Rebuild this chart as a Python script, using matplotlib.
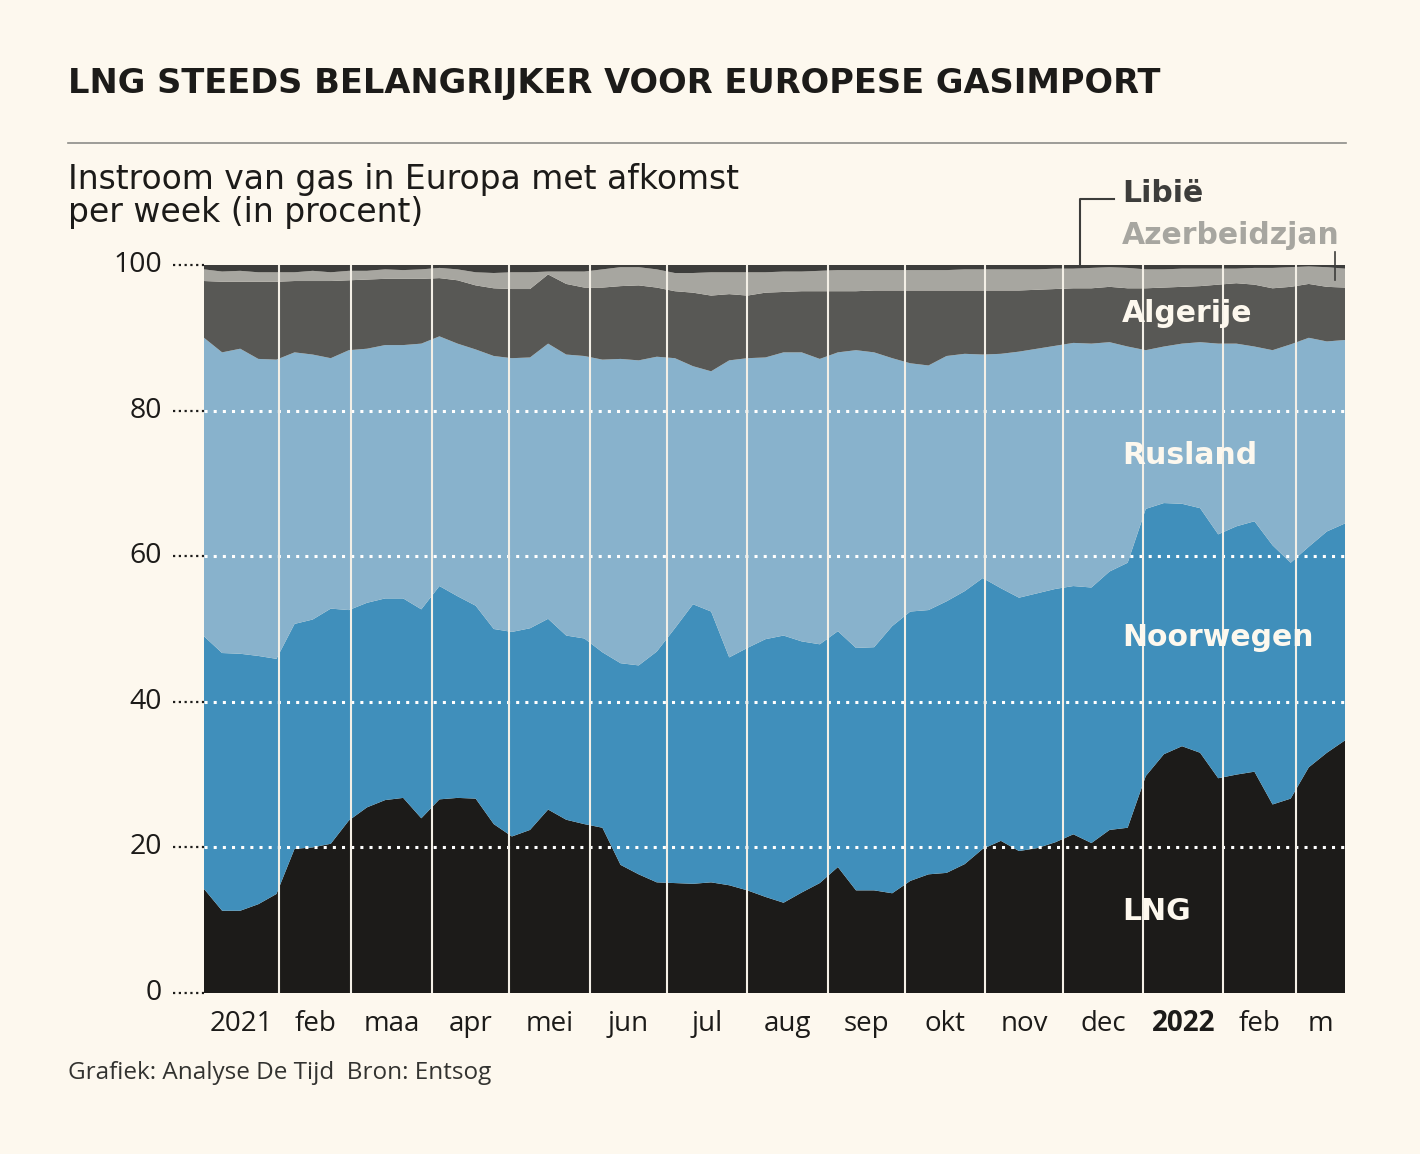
import matplotlib
matplotlib.use("Agg")
import matplotlib.pyplot as plt
import matplotlib.dates as mdates
import pandas as pd

# weekly shares of gas inflow into Europe (percent)
weeks = pd.date_range("2021-01-03", periods=64, freq="7D")

lng = [14.3, 11.3, 11.3, 12.2, 13.6, 19.8, 20.0, 20.5, 23.7, 25.5, 26.5, 26.8, 24.0, 26.6, 26.8, 26.7,
       23.2, 21.5, 22.4, 25.2, 23.8, 23.2, 22.7, 17.6, 16.3, 15.2, 15.1, 15.0, 15.2, 14.8, 14.1, 13.2,
       12.4, 13.8, 15.1, 17.3, 14.1, 14.1, 13.7, 15.4, 16.3, 16.5, 17.7, 19.8, 20.9, 19.5, 19.9, 20.7,
       21.8, 20.6, 22.4, 22.7, 29.8, 32.8, 33.9, 33.0, 29.5, 30.0, 30.4, 25.9, 26.7, 31.0, 33.0, 34.7]
noorwegen = [34.7, 35.4, 35.3, 34.1, 32.3, 30.9, 31.3, 32.3, 28.9, 28.1, 27.7, 27.4, 28.7, 29.3, 27.7, 26.5,
             26.8, 28.1, 27.7, 26.2, 25.3, 25.5, 24.1, 27.7, 28.7, 31.7, 35.0, 38.4, 37.2, 31.3, 33.3, 35.4,
             36.7, 34.5, 32.8, 32.4, 33.3, 33.4, 36.7, 37.0, 36.3, 37.3, 37.5, 37.2, 34.7, 34.8, 35.0, 34.8,
             34.1, 35.1, 35.5, 36.4, 36.7, 34.5, 33.3, 33.6, 33.5, 34.1, 34.4, 35.6, 32.4, 30.3, 30.4, 29.8]
rusland = [41.0, 41.3, 41.9, 40.8, 41.1, 37.3, 36.4, 34.4, 35.7, 34.9, 34.8, 34.8, 36.5, 34.3, 34.7, 35.2,
           37.5, 37.6, 37.2, 37.8, 38.6, 38.8, 40.2, 41.8, 41.9, 40.5, 37.1, 32.7, 33.0, 40.8, 39.8, 38.7,
           38.9, 39.7, 39.2, 38.3, 40.9, 40.5, 36.8, 34.1, 33.6, 33.7, 32.6, 30.7, 32.2, 33.8, 33.6, 33.4,
           33.4, 33.5, 31.5, 29.7, 21.8, 21.5, 22.0, 22.8, 26.2, 25.1, 24.0, 26.8, 30.0, 28.7, 26.1, 25.2]
algerije = [7.8, 9.7, 9.2, 10.6, 10.7, 9.8, 10.1, 10.6, 9.6, 9.5, 9.1, 9.1, 8.9, 8.0, 8.7, 8.8,
            9.3, 9.5, 9.4, 9.5, 9.7, 9.4, 9.9, 10.0, 10.3, 9.5, 9.2, 10.1, 10.4, 9.1, 8.6, 8.9,
            8.3, 8.4, 9.3, 8.4, 8.1, 8.5, 9.3, 10.0, 10.3, 9.0, 8.7, 8.8, 8.7, 8.4, 8.1, 7.8,
            7.5, 7.6, 7.6, 8.0, 8.5, 8.1, 7.8, 7.7, 8.1, 8.3, 8.5, 8.5, 7.9, 7.4, 7.5, 7.2]
azerbeidzjan = [1.6, 1.4, 1.5, 1.3, 1.3, 1.2, 1.4, 1.2, 1.3, 1.2, 1.3, 1.2, 1.3, 1.4, 1.5, 1.8,
                2.1, 2.3, 2.3, 0.4, 1.7, 2.2, 2.5, 2.6, 2.5, 2.5, 2.5, 2.7, 3.2, 3.0, 3.2, 2.8,
                2.8, 2.7, 2.8, 2.9, 2.9, 2.8, 2.8, 2.8, 2.8, 2.8, 2.9, 2.9, 2.9, 2.9, 2.8, 2.8,
                2.7, 2.8, 2.7, 2.8, 2.6, 2.5, 2.5, 2.4, 2.2, 2.0, 2.3, 2.8, 2.7, 2.4, 2.7, 2.6]
libie = [0.6, 0.9, 0.8, 1.0, 1.0, 1.0, 0.8, 1.0, 0.8, 0.8, 0.6, 0.7, 0.6, 0.4, 0.6, 1.0,
         1.1, 1.0, 1.0, 0.9, 0.9, 0.9, 0.6, 0.3, 0.3, 0.6, 1.1, 1.1, 1.0, 1.0, 1.0, 1.0,
         0.9, 0.9, 0.8, 0.7, 0.7, 0.7, 0.7, 0.7, 0.7, 0.7, 0.6, 0.6, 0.6, 0.6, 0.6, 0.5,
         0.5, 0.4, 0.3, 0.4, 0.6, 0.6, 0.5, 0.5, 0.5, 0.5, 0.4, 0.4, 0.3, 0.2, 0.3, 0.5]

month_starts = pd.date_range("2021-02-01", "2022-03-01", freq="MS")
month_labels = ["2021", "feb", "maa", "apr", "mei", "jun", "jul", "aug", "sep", "okt",
                "nov", "dec", "2022", "feb", "m"]
y_ticks = [0, 20, 40, 60, 80, 100]

bg = "#fdf8ee"
ink = "#1c1b19"
colors = ["#1c1b19", "#408fbb", "#88b2cc", "#585855", "#a7a6a0", "#3d3d3b"]

plt.rcParams["font.family"] = ["Open Sans", "DejaVu Sans"]
bold_font = ["DejaVu Sans", "Open Sans"]

fig = plt.figure(figsize=(14.2, 11.54), dpi=100, facecolor=bg)
W, H = 1420, 1154
ax = fig.add_axes([204 / W, 1 - 993 / H, (1345 - 204) / W, (993 - 265) / H])
ax.set_facecolor(bg)

ax.stackplot(weeks, lng, noorwegen, rusland, algerije, azerbeidzjan, libie,
             colors=colors, linewidth=0, antialiased=True)

x0, x1 = weeks[0], weeks[-1]
ax.set_xlim(x0, x1)
ax.set_ylim(0, 100)

# white dotted gridlines and month separators on top of the areas
for v in y_ticks[1:-1]:
    ax.axhline(v, color="white", lw=2.2, ls=(0, (1, 2.0)), zorder=3)
for m in month_starts:
    ax.axvline(m, color="#f3efe6", lw=1.5, zorder=3)

for s in ax.spines.values():
    s.set_visible(False)
ax.set_xticks([])
ax.set_yticks([])

# y labels with dotted leaders
for v in y_ticks:
    ax.text(-0.037, v, str(v), transform=ax.get_yaxis_transform(), ha="right", va="center",
            fontsize=20.5, color=ink)
    ax.plot([-0.027, 0], [v, v], transform=ax.get_yaxis_transform(), clip_on=False,
            color=ink, lw=1.6, ls=(0, (1, 1.6)))

# month labels centred in each month
edges = [x0] + list(month_starts) + [x1]
for i, lab in enumerate(month_labels):
    a, b = mdates.date2num(edges[i]), mdates.date2num(edges[i + 1])
    ax.text((a + b) / 2, -0.042, lab, transform=ax.get_xaxis_transform(), ha="center", va="center",
            fontsize=20, color=ink, fontweight="bold" if lab == "2022" else "normal")

# series labels
lab_x = 1122 / W
for txt, y, col in [("Algerije", 314, bg), ("Rusland", 455, bg), ("Noorwegen", 638, bg),
                    ("LNG", 912, bg), ("Libië", 193, "#3d3d3b"), ("Azerbeidzjan", 235, "#a7a6a0")]:
    fig.text(lab_x, 1 - y / H, txt, ha="left", va="center", fontsize=21.5, fontweight="bold",
             color=col, family=bold_font)

# leader lines for Libië and Azerbeidzjan
fig.add_artist(plt.Line2D([1080 / W, 1080 / W, 1114 / W], [1 - 265 / H, 1 - 199 / H, 1 - 199 / H],
                          color="#3d3d3b", lw=1.5))
fig.add_artist(plt.Line2D([1335 / W, 1335 / W], [1 - 252 / H, 1 - 280 / H], color="#3d3d3b", lw=1.2))

# title, rule, subtitle, footer
fig.text(68 / W, 1 - 84 / H, "LNG STEEDS BELANGRIJKER VOOR EUROPESE GASIMPORT", ha="left", va="center",
         fontsize=24.2, fontweight="bold", color=ink, family=bold_font)
fig.add_artist(plt.Line2D([68 / W, 1346 / W], [1 - 143 / H, 1 - 143 / H], color="#8d8d88", lw=1.2))
fig.text(68 / W, 1 - 196 / H, "Instroom van gas in Europa met afkomst\nper week (in procent)", ha="left",
         va="center", fontsize=23.8, color=ink, linespacing=1.0, family=["DejaVu Sans"])
fig.text(68 / W, 1 - 1073 / H, "Grafiek: Analyse De Tijd  Bron: Entsog", ha="left", va="center",
         fontsize=17.5, color="#333330")

fig.savefig("out.png", dpi=100, facecolor=bg)
